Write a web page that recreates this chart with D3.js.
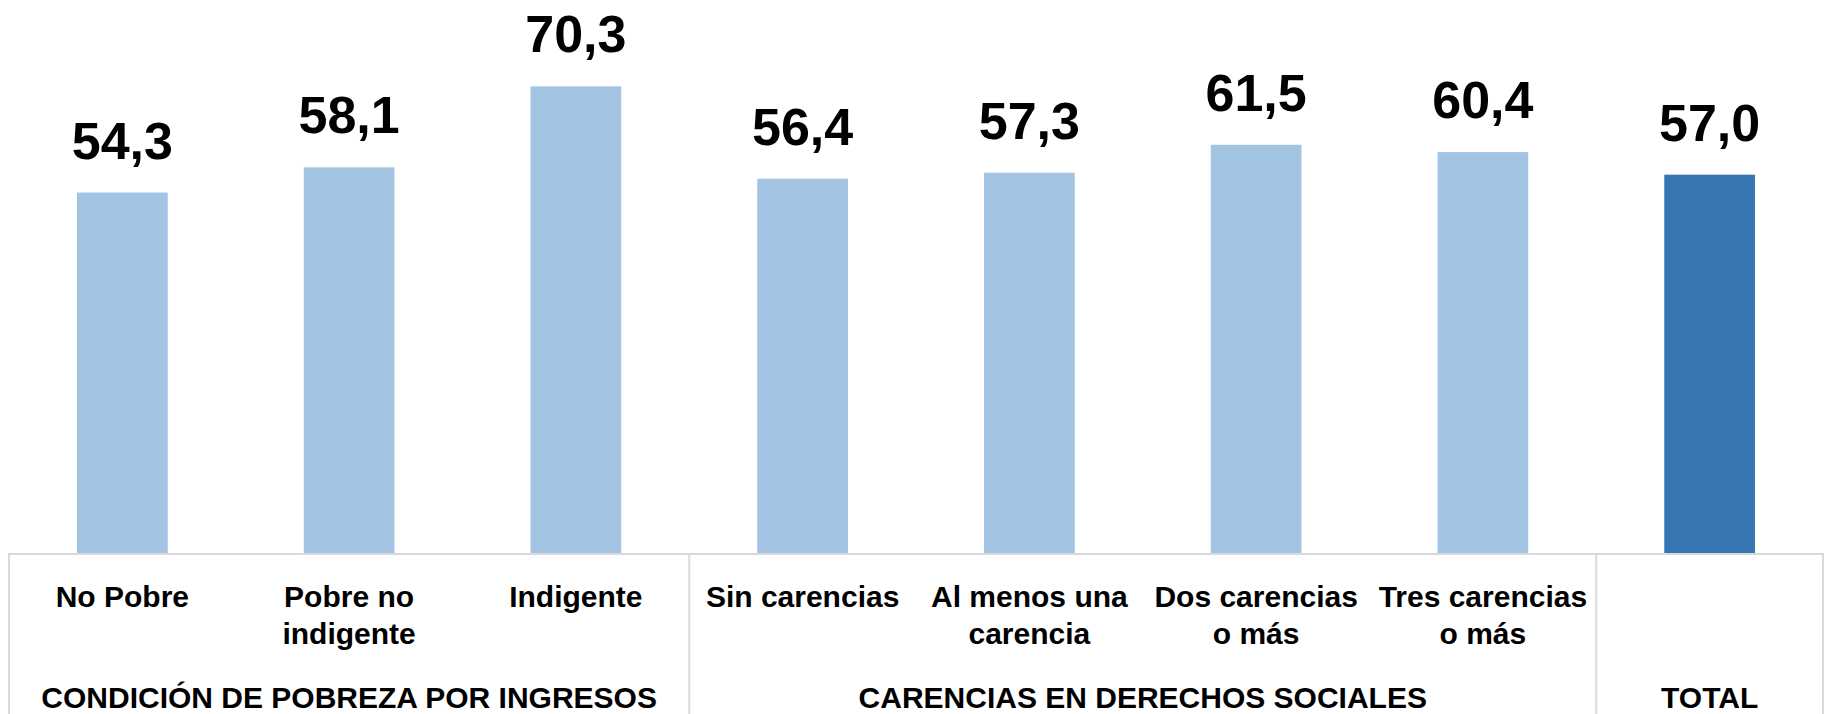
<!DOCTYPE html>
<html>
<head>
<meta charset="utf-8">
<script src="https://cdn.jsdelivr.net/npm/d3@7"></script>
<style>
  body { margin: 0; background: #fff; }
  svg text { font-family: "Liberation Sans", Arial, sans-serif; font-weight: bold; fill: #000; }
</style>
</head>
<body>
<script>
// categories (label lines) and values
const categories = ["No Pobre", "Pobre no indigente", "Indigente", "Sin carencias",
    "Al menos una carencia", "Dos carencias o más", "Tres carencias o más", "Total"];
const labelLines = [["No Pobre"], ["Pobre no", "indigente"], ["Indigente"], ["Sin carencias"],
    ["Al menos una", "carencia"], ["Dos carencias", "o más"], ["Tres carencias", "o más"], []];
const values = [54.3, 58.1, 70.3, 56.4, 57.3, 61.5, 60.4, 57.0];
const groups = [
    { name: "CONDICIÓN DE POBREZA POR INGRESOS", from: 0, to: 2 },
    { name: "CARENCIAS EN DERECHOS SOCIALES", from: 3, to: 6 },
    { name: "TOTAL", from: 7, to: 7 }
];

const W = 1825, H = 714;
const plotLeft = 9, plotRight = 1823, base = 553, plotTop = 22;

const svg = d3.select("body").append("svg")
    .attr("width", W)
    .attr("height", H);

var x = d3.scaleBand()
    .domain(categories)
    .range([plotLeft, plotRight])
    .paddingInner(0.6)
    .paddingOuter(0.3);

var y = d3.scaleLinear()
    .domain([0, 80])
    .range([base, plotTop]);

var fmt = d => d.toFixed(1).replace(".", ",");

// bars
svg.selectAll(".bar")
    .data(values)
    .enter()
    .append("rect")
    .attr("class", "bar")
    .attr("x", (d, i) => x(categories[i]))
    .attr("width", x.bandwidth())
    .attr("y", d => y(d))
    .attr("height", d => y(0) - y(d))
    .attr("fill", (d, i) => i === values.length - 1 ? "#3677b3" : "#a3c4e2");

// value labels
svg.selectAll(".val")
    .data(values)
    .enter()
    .append("text")
    .attr("class", "val")
    .attr("x", (d, i) => x(categories[i]) + x.bandwidth() / 2)
    .attr("y", d => y(d) - 34)
    .attr("text-anchor", "middle")
    .style("font-size", "52px")
    .text(fmt);

// table lines under the chart
const step = x.step();
const grid = svg.append("g")
    .attr("stroke", "#d9d9d9")
    .attr("stroke-width", 2)
    .attr("fill", "none");
grid.append("line")
    .attr("x1", plotLeft).attr("x2", plotRight)
    .attr("y1", base + 1).attr("y2", base + 1);
const seps = [plotLeft].concat(groups.map(g => plotLeft + (g.to + 1) * step));
grid.selectAll(".sep")
    .data(seps)
    .enter()
    .append("line")
    .attr("x1", d => d).attr("x2", d => d)
    .attr("y1", base).attr("y2", H);

// category labels
const cat = svg.selectAll(".cat")
    .data(categories)
    .enter()
    .append("text")
    .attr("class", "cat")
    .attr("text-anchor", "middle")
    .attr("x", d => x(d) + x.bandwidth() / 2)
    .attr("y", 607)
    .style("font-size", "30px");
cat.each(function(d, i) {
    d3.select(this).selectAll("tspan")
        .data(labelLines[i])
        .enter()
        .append("tspan")
        .attr("x", x(d) + x.bandwidth() / 2)
        .attr("dy", (t, j) => j === 0 ? 0 : 37)
        .text(t => t);
});

// group labels
svg.selectAll(".grp")
    .data(groups)
    .enter()
    .append("text")
    .attr("class", "grp")
    .attr("text-anchor", "middle")
    .attr("x", g => plotLeft + (g.from + g.to + 1) / 2 * step)
    .attr("y", 708)
    .style("font-size", "30px")
    .text(g => g.name);
</script>
</body>
</html>
